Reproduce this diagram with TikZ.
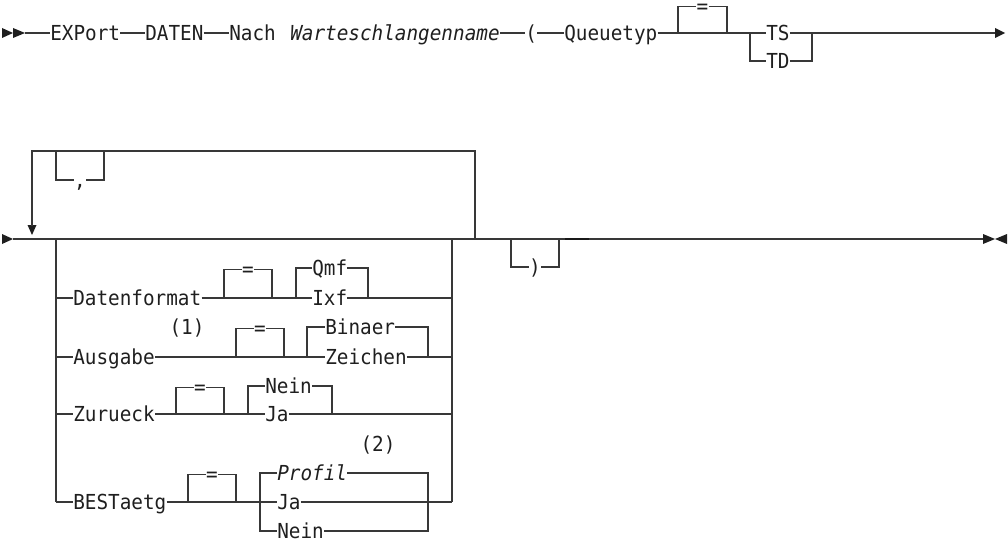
\documentclass[tikz,border=0pt]{standalone}
\usepackage{fontspec}
\newfontfamily\rrfont{DejaVu Sans Mono}[ItalicFont={DejaVu Sans Mono Oblique}, FakeStretch=0.935]
\begin{document}
\begin{tikzpicture}[x=0.75pt,y=-0.75pt,
  rr/.style={line width=0.9pt, draw=black!78},
  lbl/.style={font=\rrfont\fontsize{15.5}{17}\selectfont, inner sep=0pt, text height=11.3pt, text depth=0pt, anchor=west, text=black!88},
  itl/.style={lbl, font=\rrfont\itshape\fontsize{15.5}{17}\selectfont},
  note/.style={lbl, anchor=center},
  eqs/.style={lbl, anchor=center, yshift=-1pt},
  tip/.style={fill=black!88}]
\useasboundingbox (0,0) rectangle (1008,542);

% ---------- Row 1 ----------
\fill[tip] (2,28) -- (13,33) -- (2,38) -- cycle;
\fill[tip] (13,28) -- (25,33) -- (13,38) -- cycle;
\coordinate (a0) at (25,33);
\node[lbl] (exp) at (50,33) {EXPort};
\node[lbl] (dat) at (145,33) {DATEN};
\node[lbl] (nach) at (229,33) {Nach};
\node[itl] (wsn) at (290,33) {Warteschlangenname};
\node[lbl] (lp) at (525,33) {(};
\node[lbl] (qt) at (564,33) {Queuetyp};
\coordinate (q1) at (678,33);
\coordinate (q2) at (727,33);
\node[eqs] (qeq) at (702.5,5) {=};
\coordinate (t1) at (750,33);
\coordinate (t2) at (812,33);
\node[lbl] (ts) at (766,33) {TS};
\node[lbl] (td) at (766,61) {TD};
\coordinate (a1) at (995,33);
\fill[tip] (995,28) -- (1005,33) -- (995,38) -- cycle;

\draw[rr] (a0) -- (exp.west) (exp.east) -- (dat.west) (dat.east) -- (nach.west)
  (wsn.east) -- (lp.west) (lp.east) -- (qt.west) (qt.east) -- (ts.west) (ts.east) -- (a1);
\draw[rr] (q1) |- (qeq.west) (qeq.east) -| (q2);
\draw[rr] (t1) |- (td.west) (td.east) -| (t2);

% ---------- Row 2 ----------
\fill[tip] (2,234) -- (13,239) -- (2,244) -- cycle;
\coordinate (b0) at (13,239);
\coordinate (lpR) at (475,239);
\coordinate (lpT) at (32,151);
\coordinate (lpA) at (32,226);
\fill[tip] (27.5,225) -- (36.5,225) -- (32,235) -- cycle;
\draw[rr] (lpR) |- (lpT) -- (lpA);
% comma separator
\coordinate (c1) at (56,151);
\coordinate (c2) at (104,151);
\node[note] (cm) at (80,180) {,};
\draw[rr] (c1) |- (cm.west) (cm.east) -| (c2);

% choice block rails
\coordinate (L0) at (56,239);
\coordinate (R0) at (452,239);
\coordinate (L4) at (56,502);
\coordinate (R4) at (452,502);
\draw[rr] (L0) -- (L4) (R0) -- (R4);

% Datenformat
\node[lbl] (df) at (73,298) {Datenformat};
\coordinate (dfb1) at (224,298);
\coordinate (dfb2) at (272,298);
\node[eqs] (dfeq) at (248,268) {=};
\coordinate (dfj1) at (296,298);
\coordinate (dfj2) at (368,298);
\node[lbl] (qmf) at (312,268) {Qmf};
\node[lbl] (ixf) at (312,298) {Ixf};
\coordinate (dfR) at (452,298);
\draw[rr] (56,298) -- (df.west) (df.east) -- (ixf.west) (ixf.east) -- (dfR);
\draw[rr] (dfb1) |- (dfeq.west) (dfeq.east) -| (dfb2);
\draw[rr] (dfj1) |- (qmf.west) (qmf.east) -| (dfj2);

% Ausgabe
\node[lbl] (au) at (73,357) {Ausgabe};
\node[note] (n1) at (187,327) {(1)};
\coordinate (aub1) at (236,357);
\coordinate (aub2) at (284,357);
\node[eqs] (aueq) at (260,327) {=};
\coordinate (auj1) at (307,357);
\coordinate (auj2) at (428,357);
\node[lbl] (bin) at (325,327) {Binaer};
\node[lbl] (zei) at (325,357) {Zeichen};
\coordinate (auR) at (452,357);
\draw[rr] (56,357) -- (au.west) (au.east) -- (zei.west) (zei.east) -- (auR);
\draw[rr] (aub1) |- (aueq.west) (aueq.east) -| (aub2);
\draw[rr] (auj1) |- (bin.west) (bin.east) -| (auj2);

% Zurueck
\node[lbl] (zu) at (73,414) {Zurueck};
\coordinate (zub1) at (176,414);
\coordinate (zub2) at (224,414);
\node[eqs] (zueq) at (200,386) {=};
\coordinate (zuj1) at (248,414);
\coordinate (zuj2) at (332,414);
\node[lbl] (zne) at (265,386) {Nein};
\node[lbl] (zja) at (265,414) {Ja};
\coordinate (zuR) at (452,414);
\draw[rr] (56,414) -- (zu.west) (zu.east) -- (zja.west) (zja.east) -- (zuR);
\draw[rr] (zub1) |- (zueq.west) (zueq.east) -| (zub2);
\draw[rr] (zuj1) |- (zne.west) (zne.east) -| (zuj2);

% BESTaetg
\node[lbl] (be) at (73,502) {BESTaetg};
\coordinate (beb1) at (188,502);
\coordinate (beb2) at (236,502);
\node[eqs] (beeq) at (212,473) {=};
\coordinate (bej1) at (260,502);
\coordinate (bej2) at (428,502);
\node[note] (n2) at (378,444) {(2)};
\node[itl] (pro) at (277,473) {Profil};
\node[lbl] (bja) at (277,502) {Ja};
\node[lbl] (bne) at (277,531) {Nein};
\draw[rr] (L4) -- (be.west) (be.east) -- (bja.west) (bja.east) -- (R4);
\draw[rr] (beb1) |- (beeq.west) (beeq.east) -| (beb2);
\draw[rr] (pro.west) -| (bej1) |- (bne.west);
\draw[rr] (pro.east) -| (bej2) |- (bne.east);

% closing paren and end
\coordinate (p1) at (511,239);
\coordinate (p2) at (559,239);
\node[note] (rp) at (535,267) {)};
\draw[rr] (p1) |- (rp.west) (rp.east) -| (p2);
\coordinate (d1) at (565,239);
\coordinate (d2) at (589,239);
\coordinate (e0) at (983,239);
\draw[rr] (b0) -- (d1) (d2) -- (e0);
\draw[line width=1.8pt, draw=black!90] (d1) -- (d2);
\fill[tip] (983,234) -- (995,239) -- (983,244) -- cycle;
\fill[tip] (1007,234) -- (995,239) -- (1007,244) -- cycle;
\end{tikzpicture}
\end{document}
